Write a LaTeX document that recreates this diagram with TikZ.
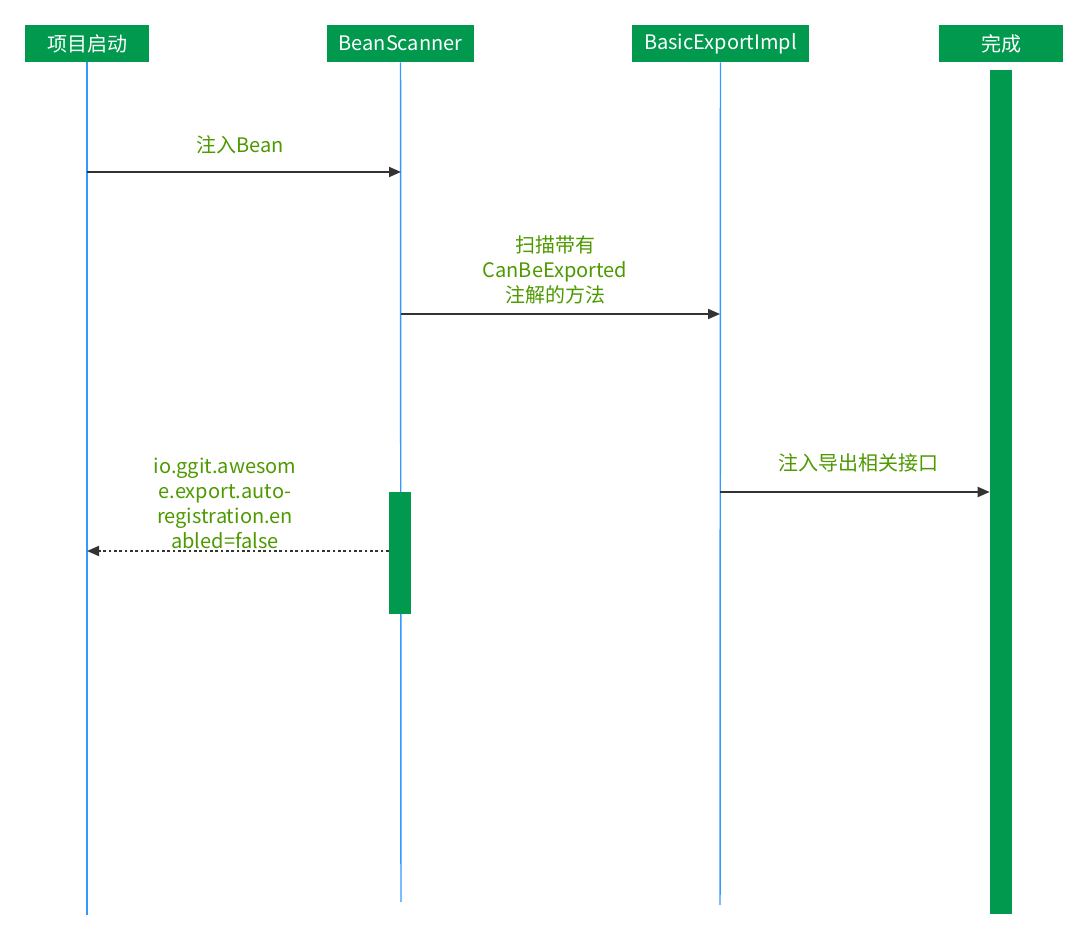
\documentclass[tikz,border=0pt]{standalone}
\usepackage{fontspec}
\setmainfont{Noto Sans CJK SC}
\usetikzlibrary{arrows.meta}
\definecolor{boxgreen}{RGB}{0,153,77}
\definecolor{lifeblue}{RGB}{51,153,255}
\definecolor{msggreen}{RGB}{77,153,0}
\definecolor{arrowgray}{RGB}{51,51,51}
\tikzset{
  actor/.style={fill=boxgreen,text=white,inner sep=0pt,minimum height=27.75pt,
    font=\fontsize{15}{17}\selectfont},
  life/.style={lifeblue,line width=1.1pt},
  bar/.style={fill=boxgreen,draw=none,inner sep=0pt,minimum width=16.5pt},
  msg/.style={arrowgray,line width=1.4pt,-{Triangle[length=9pt,width=7.5pt]}},
  reply/.style={msg,dash pattern=on 2pt off 2pt},
  lbl/.style={text=msggreen,align=center,inner sep=0pt,
    font=\fontsize{15}{18.75}\selectfont},
}
\begin{document}
\begin{tikzpicture}[x=0.75pt,y=-0.75pt]
  \useasboundingbox (0,0) rectangle (1088,941);
  % actors
  \node[actor,minimum width=93pt]     (start)  at (87,43.5)   {项目启动};
  \node[actor,minimum width=110.25pt] (scan)   at (400.5,43.5) {BeanScanner};
  \node[actor,minimum width=132.75pt] (impl)   at (720.5,43.5) {BasicExportImpl};
  \node[actor,minimum width=93pt]     (finish) at (1001,43.5)  {完成};
  % lifelines
  \coordinate (startEnd) at (87,915);
  \coordinate (scanEnd)  at (401,902);
  \coordinate (implEnd)  at (720,905);
  \draw[life] (start.south) -- (startEnd);
  \draw[life] (scan.south)  -- (scanEnd);
  \draw[life] (impl.south)  -- (implEnd);
  \node[bar,minimum height=633pt] (finishBar) at (1001,492) {};
  \node[bar,minimum height=91.5pt] (scanAct) at (400,553) {};
  % messages
  \coordinate (m1a) at (87,172);  \coordinate (m1b) at (401,172);
  \coordinate (m2a) at (401,314); \coordinate (m2b) at (720,314);
  \coordinate (m3a) at (720,492);
  \coordinate (m4b) at (87,551);
  \draw[msg] (m1a) -- (m1b);
  \draw[msg] (m2a) -- (m2b);
  \draw[msg] (m3a) -- (m3a -| finishBar.west);
  \draw[reply] (scanAct.west |- m4b) -- (m4b);
  % labels
  \node[lbl] (l1) at (240,145) {注入Bean};
  \node[lbl] (l2) at (555,270) {扫描带有\\CanBeExported\\注解的方法};
  \node[lbl] (l3) at (858,463) {注入导出相关接口};
  \node[lbl] (l4) at (225,503.5) {io.ggit.awesom\\e.export.auto-\\registration.en\\abled=false};
\end{tikzpicture}
\end{document}
